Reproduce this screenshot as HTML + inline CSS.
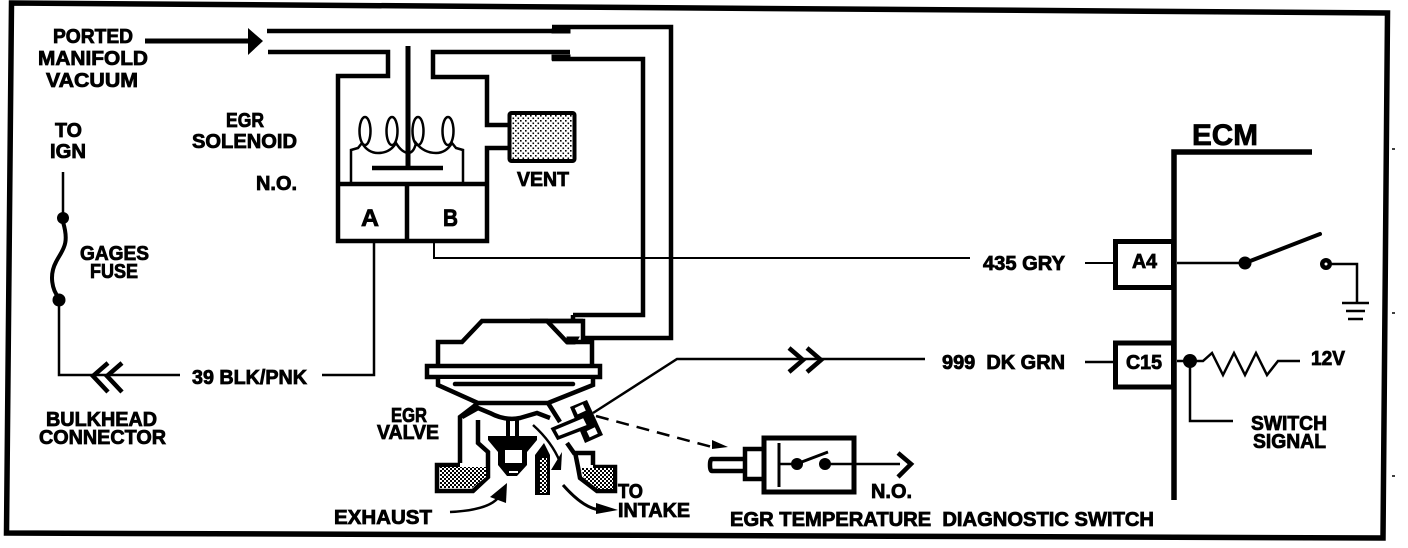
<!DOCTYPE html>
<html><head><meta charset="utf-8"><title>EGR Solenoid Diagram</title>
<style>html,body{margin:0;padding:0;background:#fff;width:1408px;height:548px;overflow:hidden}svg{display:block}
text{font-family:"Liberation Sans",sans-serif;font-weight:bold;font-size:20px;fill:#000;stroke:#000;stroke-width:.8;white-space:pre}</style></head>
<body>
<svg width="1408" height="548" viewBox="0 0 1408 548" xmlns="http://www.w3.org/2000/svg">
<defs>
<pattern id="st" width="5" height="5" patternUnits="userSpaceOnUse"><rect width="5" height="5" fill="#fff"/><rect x="0" y="0" width="1.6" height="1.6" fill="#000"/><rect x="2.500" y="2.500" width="1.6" height="1.6" fill="#000"/></pattern>
<pattern id="st2" width="4" height="4" patternUnits="userSpaceOnUse"><rect width="4" height="4" fill="#000"/><rect x="0" y="0" width="2" height="2" fill="#fff"/><rect x="2" y="2" width="2" height="2" fill="#fff"/></pattern>
</defs>
<rect width="1408" height="548" fill="#fff"/>
<g fill="none" stroke="#000" stroke-linejoin="miter">
<!-- frame -->
<path d="M11.5 3 L1387.5 13 L1383 538 L6.5 533 Z" stroke-width="5.5"/>
<path d="M1392 149h3M1392 313h3M1392 476h3" stroke-width="1.5"/>
<!-- vacuum arrow -->
<path d="M145 41H250" stroke-width="5"/>
<!-- pipes -->
<path d="M267 31H570M552 27H671V338H583V321H530" stroke-width="4.5"/>
<path d="M552 29h18v4h-18z" fill="#000" stroke-width="1"/>
<path d="M268 52H388V76H338V241H487V148H510" stroke-width="4.5"/>
<path d="M510 125H487V77H433V52H570M552 59H643V315H573" stroke-width="4.5"/>
<path d="M552 55h18v5h-18z" fill="#000" stroke-width="1"/>
<path d="M573 315V321" stroke-width="4.5"/>
<path d="M408 46V168" stroke-width="5"/>
<path d="M372 168H443" stroke-width="4.5"/>
<path d="M338 184H487M407 184V241" stroke-width="4.5"/>
<!-- coil -->
<g stroke-width="2.5">
<path d="M351 184V150L358 148L362 143Q368 153 378 153Q390 153 396 143Q402 153 409 153Q414 152 416 143Q424 153 436 153Q446 153 452 143L456 148L463 150V184"/>
<ellipse cx="365" cy="131" rx="5.5" ry="14"/>
<ellipse cx="392" cy="131" rx="5.5" ry="14"/>
<ellipse cx="418" cy="131" rx="5.5" ry="14"/>
<ellipse cx="448" cy="131" rx="5.5" ry="14"/>
</g>
<!-- vent -->
<rect x="509.500" y="113" width="65" height="48" rx="2" fill="url(#st)" stroke-width="4"/>
<!-- wires -->
<path d="M374 241V375H322" stroke-width="2.500"/>
<path d="M434 241V258L970 258M1085 263H1114" stroke-width="2"/>
<path d="M63 172V218M59 300V375H180" stroke-width="2.500"/>
<path d="M63 222C70 245 62 250 56 262C49 275 52 290 59 298" stroke-width="4"/>
<path d="M108 363L93 376L108 392M122 363L107 376L122 392" stroke-width="4.500"/>
<!-- valve -->
<path d="M438 365V342H462L482 321H547L567 342H592V365" stroke-width="4.500" fill="#fff"/>
<path d="M530 321H583" stroke-width="4.500"/>
<path d="M567 337l12 0 l-4 7h-8z" fill="#000" stroke-width="1"/>
<rect x="427" y="366" width="173" height="11" stroke-width="4.500" fill="#fff"/>
<path d="M438 379V385L478 403H548L593 385V379" stroke-width="4.500" fill="#fff"/>
<path d="M455 384H573" stroke-width="4.500" stroke-linecap="round"/>
<path d="M460 463V417L473 407L478 403M548 403L560 422" stroke-width="4.500"/>
<path d="M462 417L478 408L490 413Q505 421 520 418L537 413L550 418" stroke-width="4.500"/>
<path d="M478 420V443L488 452V477L473 491H437V465H460" stroke-width="4.500" fill="none"/>
<path d="M440 467H486V477L472 488H440Z" fill="url(#st2)" stroke-width="0"/>
<path d="M508 420V438M517 420V438" stroke-width="4"/>
<path d="M567 443L574 453H593V465M575 452L578 467L580 478L597 491H615V467H593" stroke-width="4.500"/>
<path d="M581 468H613V489H598L584 478Z" fill="url(#st2)" stroke-width="0"/>
</g>
<g fill="#000">
<!-- poppet -->
<path d="M488 436H537V440L527 452V465L517 476H507L498 465V452L488 440Z"/>
<path d="M535 495V455L544 443L550 455V495Z"/>
</g>
<rect x="505" y="450" width="17" height="13" fill="#fff"/>
<rect x="509" y="471" width="9" height="2" fill="#fff"/>
<rect x="540" y="458" width="7" height="35" fill="url(#st2)"/>
<g fill="none" stroke="#000">
<!-- flow arrows -->
<path d="M533 425Q552 442 560 462" stroke-width="2.500"/>
<path d="M450 512Q492 510 500 495" stroke-width="2.500"/>
<path d="M563 485Q585 510 602 510" stroke-width="3"/>
<!-- sensor -->
<path d="M593 413L677 359H925M1085 362H1114" stroke-width="2.500"/>
<path d="M789 348L803 360L789 372M807 348L821 360L807 372" stroke-width="4.500"/>
<path d="M596 416L712 447" stroke-width="2.500" stroke-dasharray="13 8"/>
<!-- switch -->
<rect x="764" y="438" width="90" height="54" stroke-width="5"/>
<path d="M763 449H745V479H763" stroke-width="4.500"/>
<path d="M743 459H712Q710 459 710 465Q710 471 712 471H743" stroke-width="4.500"/>
<path d="M779 443V487M763 458V470" stroke-width="3"/>
<path d="M779 464H797M825 464H900" stroke-width="2.500"/>
<path d="M799 463L828 452" stroke-width="3"/>
<path d="M898 453L911 464L898 477" stroke-width="4.500"/>
<!-- ECM -->
<path d="M1312 152H1174V500" stroke-width="5.500"/>
<rect x="1115.500" y="241.500" width="58" height="46" stroke-width="5" fill="#fff"/>
<rect x="1115.500" y="343" width="58" height="44" stroke-width="5" fill="#fff"/>
<path d="M1177 263H1245" stroke-width="2.500"/>
<path d="M1245 263L1320 234" stroke-width="4" stroke-linecap="round"/>
<path d="M1325 264H1357V303" stroke-width="2.500"/>
<path d="M1342 303H1369M1346 311H1365M1348 319H1363" stroke-width="2.500"/>
<path d="M1177 361H1203L1212 353L1223 375L1234 353L1245 375L1256 353L1267 375L1278 361H1300" stroke-width="2.500"/>
<path d="M1190 361V421H1233" stroke-width="2.500"/>
</g>
<g fill="#000">
<path d="M248 28L263 41L248 55Z"/>
<path d="M712 440L728 447L712 449Z"/>
<path d="M551 470L561 470L562 452Z"/>
<path d="M490 497L507 483L506 503Z"/>
<path d="M596 503L618 510L596 514Z"/>
<path d="M570 407L587 400L603 435L585 443Z"/>
<circle cx="63" cy="218" r="6"/><circle cx="59" cy="300" r="6.500"/>
<circle cx="797" cy="464" r="6"/><circle cx="825" cy="464" r="6"/>
<circle cx="1245" cy="263" r="6.500"/><circle cx="1326" cy="264" r="6"/>
<circle cx="1190" cy="361" r="7"/>
</g>
<path d="M553 429L584 416L589 426L558 438Z" fill="#fff" stroke="#000" stroke-width="3.500"/>
<g fill="#fff">
<rect x="576" y="406" width="9" height="7" transform="rotate(-25 580 410)"/>
<rect x="588" y="429" width="9" height="7" transform="rotate(-25 592 433)"/>
<circle cx="1326" cy="264" r="1.500"/>
</g>
<!-- labels -->
<text x="53" y="43" textLength="80" lengthAdjust="spacingAndGlyphs">PORTED</text>
<text x="38" y="65" textLength="110" lengthAdjust="spacingAndGlyphs">MANIFOLD</text>
<text x="46" y="87" textLength="92" lengthAdjust="spacingAndGlyphs">VACUUM</text>
<text x="55" y="137" textLength="27" lengthAdjust="spacingAndGlyphs">TO</text>
<text x="50" y="158" textLength="36" lengthAdjust="spacingAndGlyphs">IGN</text>
<text x="226" y="127" textLength="38" lengthAdjust="spacingAndGlyphs">EGR</text>
<text x="192" y="148" textLength="105" lengthAdjust="spacingAndGlyphs">SOLENOID</text>
<text x="256" y="190" textLength="41" lengthAdjust="spacingAndGlyphs">N.O.</text>
<text x="80" y="260" textLength="69" lengthAdjust="spacingAndGlyphs">GAGES</text>
<text x="90" y="278" textLength="48" lengthAdjust="spacingAndGlyphs">FUSE</text>
<text x="192" y="384" textLength="115" lengthAdjust="spacingAndGlyphs">39 BLK/PNK</text>
<text x="46" y="426" textLength="111" lengthAdjust="spacingAndGlyphs">BULKHEAD</text>
<text x="39" y="444" textLength="127" lengthAdjust="spacingAndGlyphs">CONNECTOR</text>
<text x="391" y="422" textLength="36" lengthAdjust="spacingAndGlyphs">EGR</text>
<text x="377" y="439" textLength="62" lengthAdjust="spacingAndGlyphs">VALVE</text>
<text x="334" y="524" textLength="98" lengthAdjust="spacingAndGlyphs">EXHAUST</text>
<text x="618" y="498" textLength="25" lengthAdjust="spacingAndGlyphs">TO</text>
<text x="618" y="517" textLength="72" lengthAdjust="spacingAndGlyphs">INTAKE</text>
<text x="517" y="186" textLength="52" lengthAdjust="spacingAndGlyphs">VENT</text>
<text x="361" y="226" textLength="18" lengthAdjust="spacingAndGlyphs" style="font-size:24px">A</text>
<text x="443" y="226" textLength="15" lengthAdjust="spacingAndGlyphs" style="font-size:24px">B</text>
<text x="983" y="270" textLength="82" lengthAdjust="spacingAndGlyphs">435 GRY</text>
<text x="942" y="369" textLength="123" lengthAdjust="spacingAndGlyphs">999  DK GRN</text>
<text x="1132" y="268" textLength="25" lengthAdjust="spacingAndGlyphs">A4</text>
<text x="1126" y="369" textLength="36" lengthAdjust="spacingAndGlyphs">C15</text>
<text x="1311" y="365" textLength="34" lengthAdjust="spacingAndGlyphs">12V</text>
<text x="1251" y="430" textLength="76" lengthAdjust="spacingAndGlyphs">SWITCH</text>
<text x="1253" y="448" textLength="73" lengthAdjust="spacingAndGlyphs">SIGNAL</text>
<text x="871" y="498" textLength="41" lengthAdjust="spacingAndGlyphs">N.O.</text>
<text x="730" y="526" textLength="424" lengthAdjust="spacingAndGlyphs">EGR TEMPERATURE  DIAGNOSTIC SWITCH</text>
<text x="1192" y="145" textLength="66" lengthAdjust="spacingAndGlyphs" style="font-size:30px">ECM</text>
</svg>
</body></html>
